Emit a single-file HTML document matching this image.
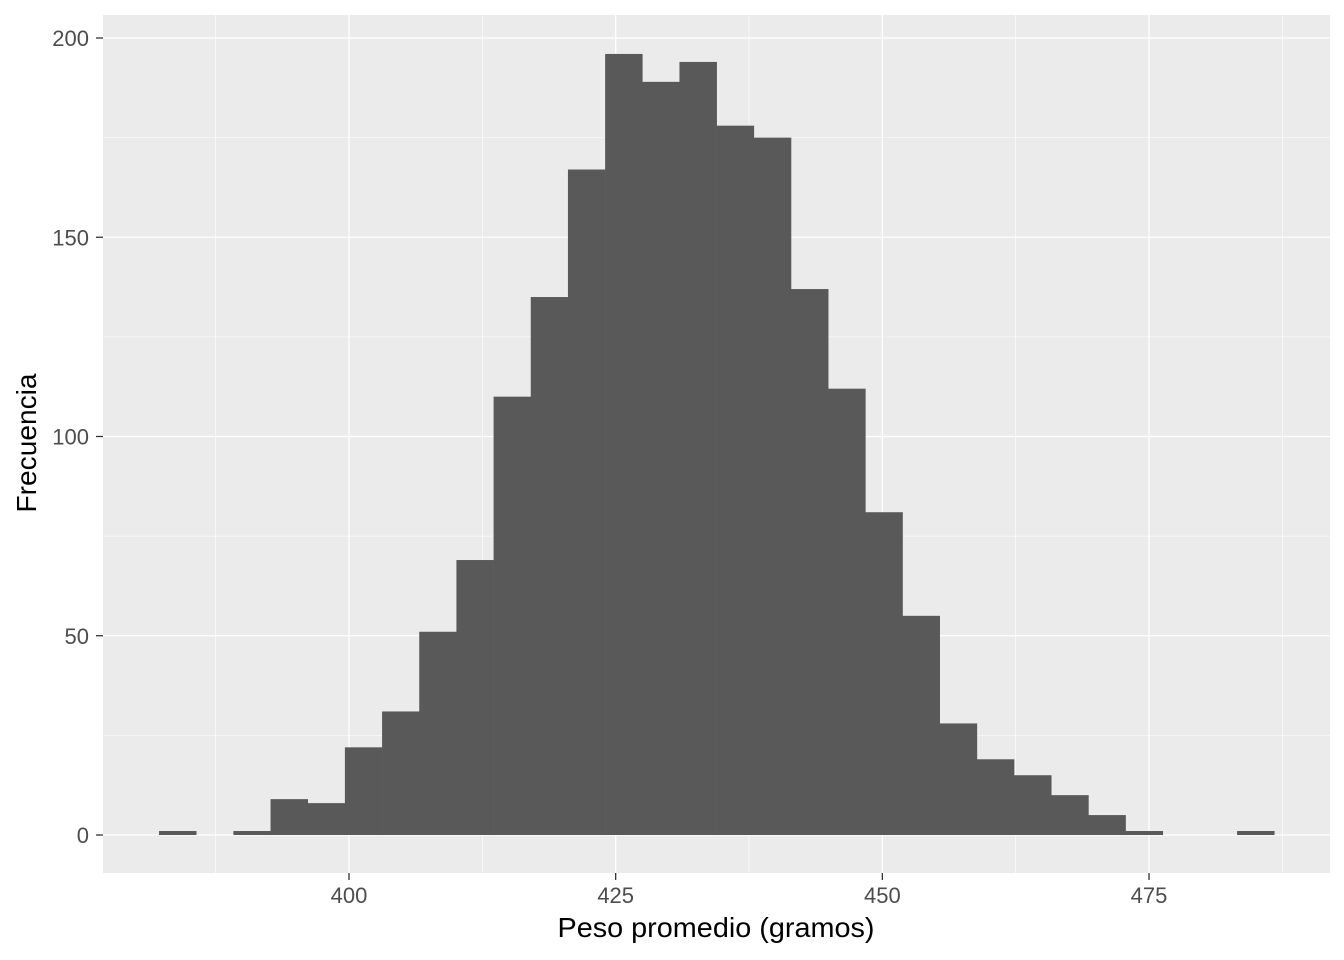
<!DOCTYPE html>
<html><head><meta charset="utf-8"><style>
html,body{margin:0;padding:0;background:#fff;}
svg{display:block;font-family:"Liberation Sans",sans-serif;}
</style></head><body>
<svg id="chart" width="1344" height="960" viewBox="0 0 1344 960" xmlns="http://www.w3.org/2000/svg">
<rect x="103" y="15" width="1227" height="858" fill="#EBEBEB"/>
<g id="grid"></g>
<g id="bars"></g>
<g id="axes"></g>
<text x="716" y="937" font-size="28" text-anchor="middle" textLength="317" lengthAdjust="spacingAndGlyphs" fill="#000">Peso promedio (gramos)</text>
<text transform="translate(36,443) rotate(-90)" font-size="28" text-anchor="middle" textLength="139" lengthAdjust="spacingAndGlyphs" fill="#000">Frecuencia</text>
</svg>
<script>
const binStart = 382.19;
const binWidth = 3.485;
const counts = [1,0,1,9,8,22,31,51,69,110,135,167,196,189,194,178,175,137,112,81,55,28,19,15,10,5,1,0,0,1];
const xTicks = [400,425,450,475];
const xMinor = [387.5,412.5,437.5,462.5,487.5];
const yTicks = [0,50,100,150,200];
const yMinor = [25,75,125,175];

const X0=103,X1=1330,Y0=15,Y1=873;
const xs = v => 349 + (v-400)*10.667;
const ys = v => 835 - v*3.985;
const NS="http://www.w3.org/2000/svg";
function mk(tag, attrs, parent){const e=document.createElementNS(NS,tag);for(const k in attrs)e.setAttribute(k,attrs[k]);parent.appendChild(e);return e;}
const grid=document.getElementById('grid'), bars=document.getElementById('bars'), axes=document.getElementById('axes');
yMinor.forEach(v=>{const l=mk('line',{x1:X0,x2:X1,y1:ys(v),y2:ys(v),stroke:'#fff','stroke-width':0.6},grid);

});
xMinor.forEach(v=>{const l=mk('line',{x1:xs(v),x2:xs(v),y1:Y0,y2:Y1,stroke:'#fff','stroke-width':0.6},grid);

});
yTicks.forEach(v=>{const l=mk('line',{x1:X0,x2:X1,y1:ys(v),y2:ys(v),stroke:'#fff','stroke-width':1.3},grid);


const t=mk('line',{x1:X0-7,x2:X0,y1:ys(v),y2:ys(v),stroke:'#333','stroke-width':1.3},axes);


const s=String(v);
const tx=mk('text',{x:X0-14,y:ys(v)+8,'font-size':22,'text-anchor':'end',fill:'#4D4D4D'},axes);tx.textContent=s;

});
xTicks.forEach(v=>{const l=mk('line',{x1:xs(v),x2:xs(v),y1:Y0,y2:Y1,stroke:'#fff','stroke-width':1.3},grid);


const t=mk('line',{x1:xs(v),x2:xs(v),y1:Y1,y2:Y1+7,stroke:'#333','stroke-width':1.3},axes);


const s=String(v);
const tx=mk('text',{x:xs(v),y:903,'font-size':22,'text-anchor':'middle',fill:'#4D4D4D'},axes);tx.textContent=s;

});
counts.forEach((c,i)=>{if(c<=0)return;const a=xs(binStart+i*binWidth),b=xs(binStart+(i+1)*binWidth);
const r=mk('rect',{x:a,y:ys(c),width:b-a+0.3,height:ys(0)-ys(c),fill:'#595959'},bars);

});
</script>
</body></html>
